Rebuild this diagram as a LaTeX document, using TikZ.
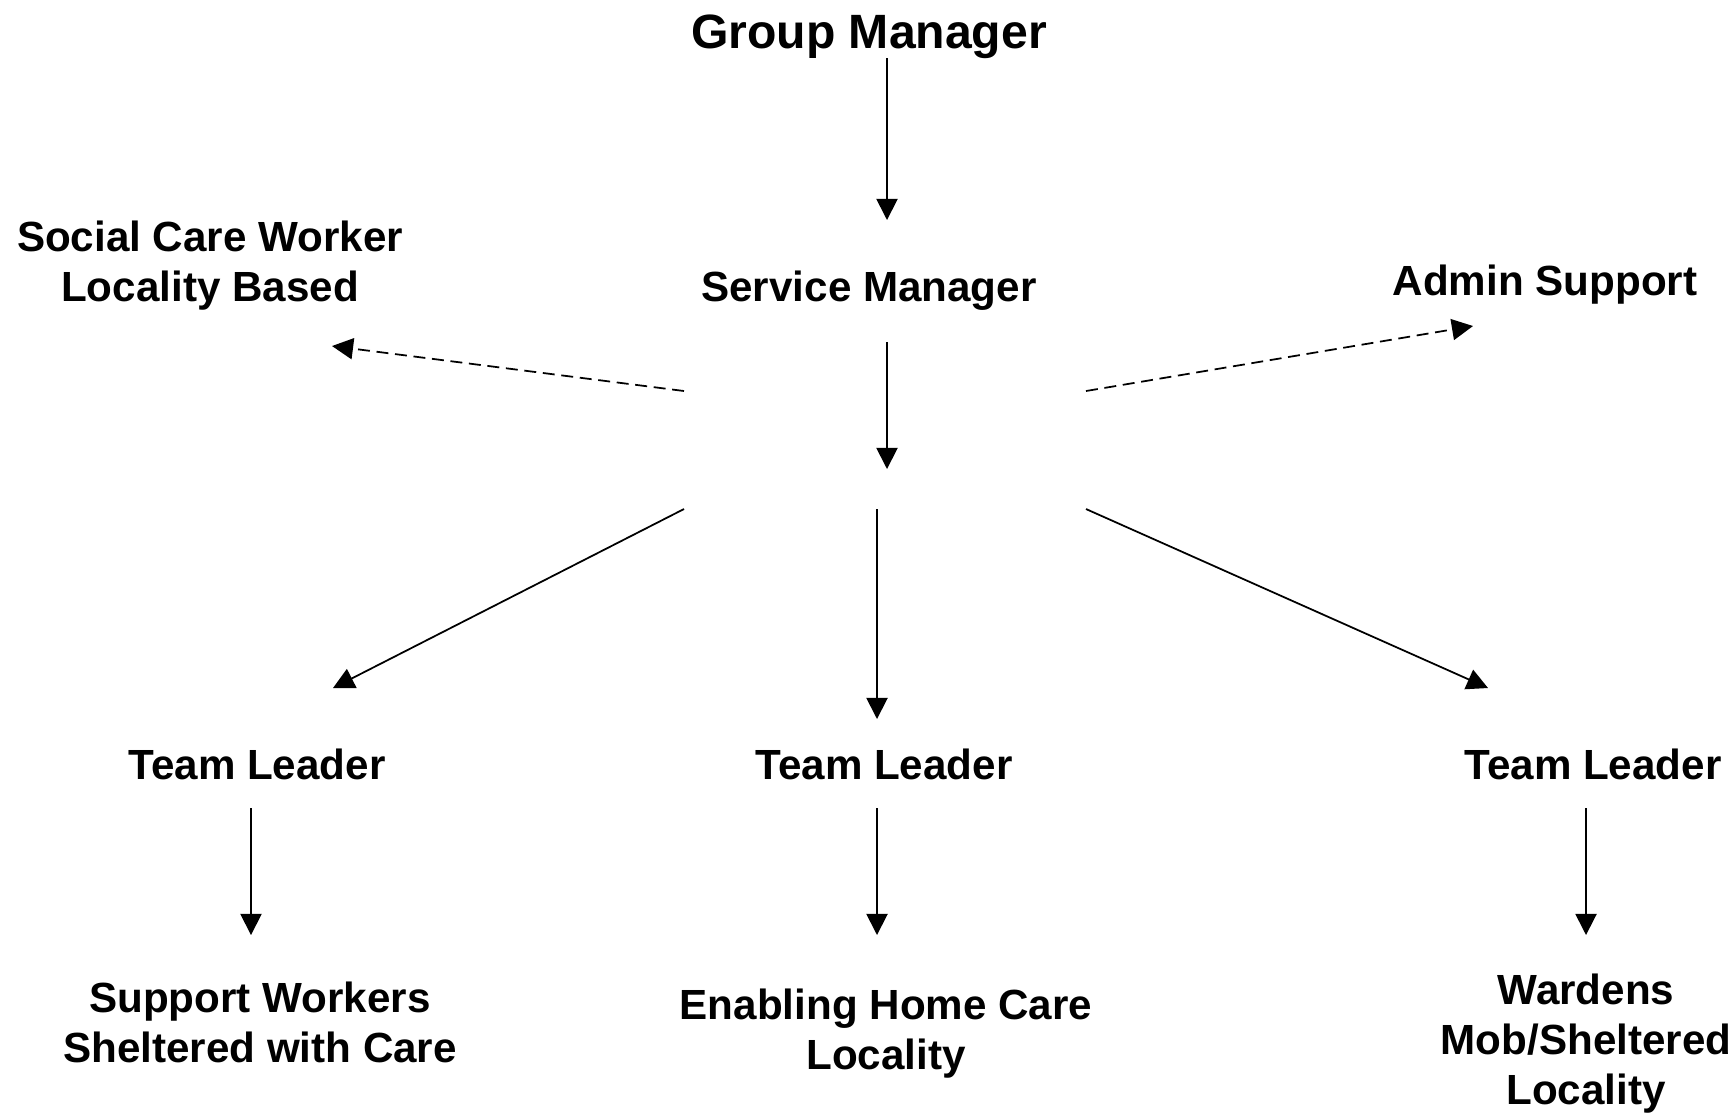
\documentclass[tikz,border=0pt]{standalone}
\usepackage{fontspec}
\setmainfont{Liberation Sans}
\usepackage{tikz}
\usetikzlibrary {arrows.meta}

\tikzset{
  post/.style = {font=\fontsize{12}{14.2}\selectfont\bfseries, align=center, anchor=base, inner sep=0pt},
  arr/.style = {line width=0.5pt, -{Triangle[length=6pt,width=6pt]}},
  darr/.style = {arr, dash pattern=on 3.4pt off 1.9pt}
}

\begin{document}
\begin{tikzpicture}

\useasboundingbox (0,0) rectangle (17.30,-11.13);

% posts
\node (gm) at (8.69,-0.48) [post, font=\fontsize{13.7}{16}\selectfont\bfseries]{Group Manager};
\node (sm) at (8.69,-3.01) [post]{Service Manager};
\node (scw) at (2.10,-3.01) [post]{Social Care Worker\\Locality Based};
\node (adm) at (15.45,-2.95) [post]{Admin Support};

\node (tl1) at (2.57,-7.79) [post]{Team Leader};
\node (tl2) at (8.84,-7.79) [post]{Team Leader};
\node (tl3) at (15.93,-7.79) [post]{Team Leader};

\node (sw) at (2.60,-10.62) [post]{Support Workers\\Sheltered with Care};
\node (ehc) at (8.86,-10.69) [post]{Enabling Home Care\\Locality};
\node (wd) at (15.86,-11.04) [post]{Wardens\\Mob/Sheltered\\Locality};

% arrow ends
\coordinate (gm-out) at (8.87,-0.58);
\coordinate (sm-in) at (8.87,-2.20);
\coordinate (sm-out) at (8.87,-3.42);
\coordinate (hub) at (8.87,-4.69);
\coordinate (hub-l) at (6.84,-3.91);
\coordinate (hub-r) at (10.86,-3.91);
\coordinate (scw-in) at (3.32,-3.46);
\coordinate (adm-in) at (14.73,-3.26);
\coordinate (low-l) at (6.84,-5.09);
\coordinate (low-c) at (8.77,-5.09);
\coordinate (low-r) at (10.86,-5.09);
\coordinate (tl1-in) at (3.33,-6.88);
\coordinate (tl2-in) at (8.77,-7.19);
\coordinate (tl3-in) at (14.88,-6.88);
\coordinate (tl1-out) at (2.51,-8.08);
\coordinate (tl2-out) at (8.77,-8.08);
\coordinate (tl3-out) at (15.86,-8.08);
\coordinate (sw-in) at (2.51,-9.35);
\coordinate (ehc-in) at (8.77,-9.35);
\coordinate (wd-in) at (15.86,-9.35);

\draw[arr] (gm-out) -- (sm-in);
\draw[arr] (sm-out) -- (hub);
\draw[darr] (hub-l) -- (scw-in);
\draw[darr] (hub-r) -- (adm-in);

\draw[arr] (low-l) -- (tl1-in);
\draw[arr] (low-c) -- (tl2-in);
\draw[arr] (low-r) -- (tl3-in);

\draw[arr] (tl1-out) -- (sw-in);
\draw[arr] (tl2-out) -- (ehc-in);
\draw[arr] (tl3-out) -- (wd-in);

\end{tikzpicture}
\end{document}
